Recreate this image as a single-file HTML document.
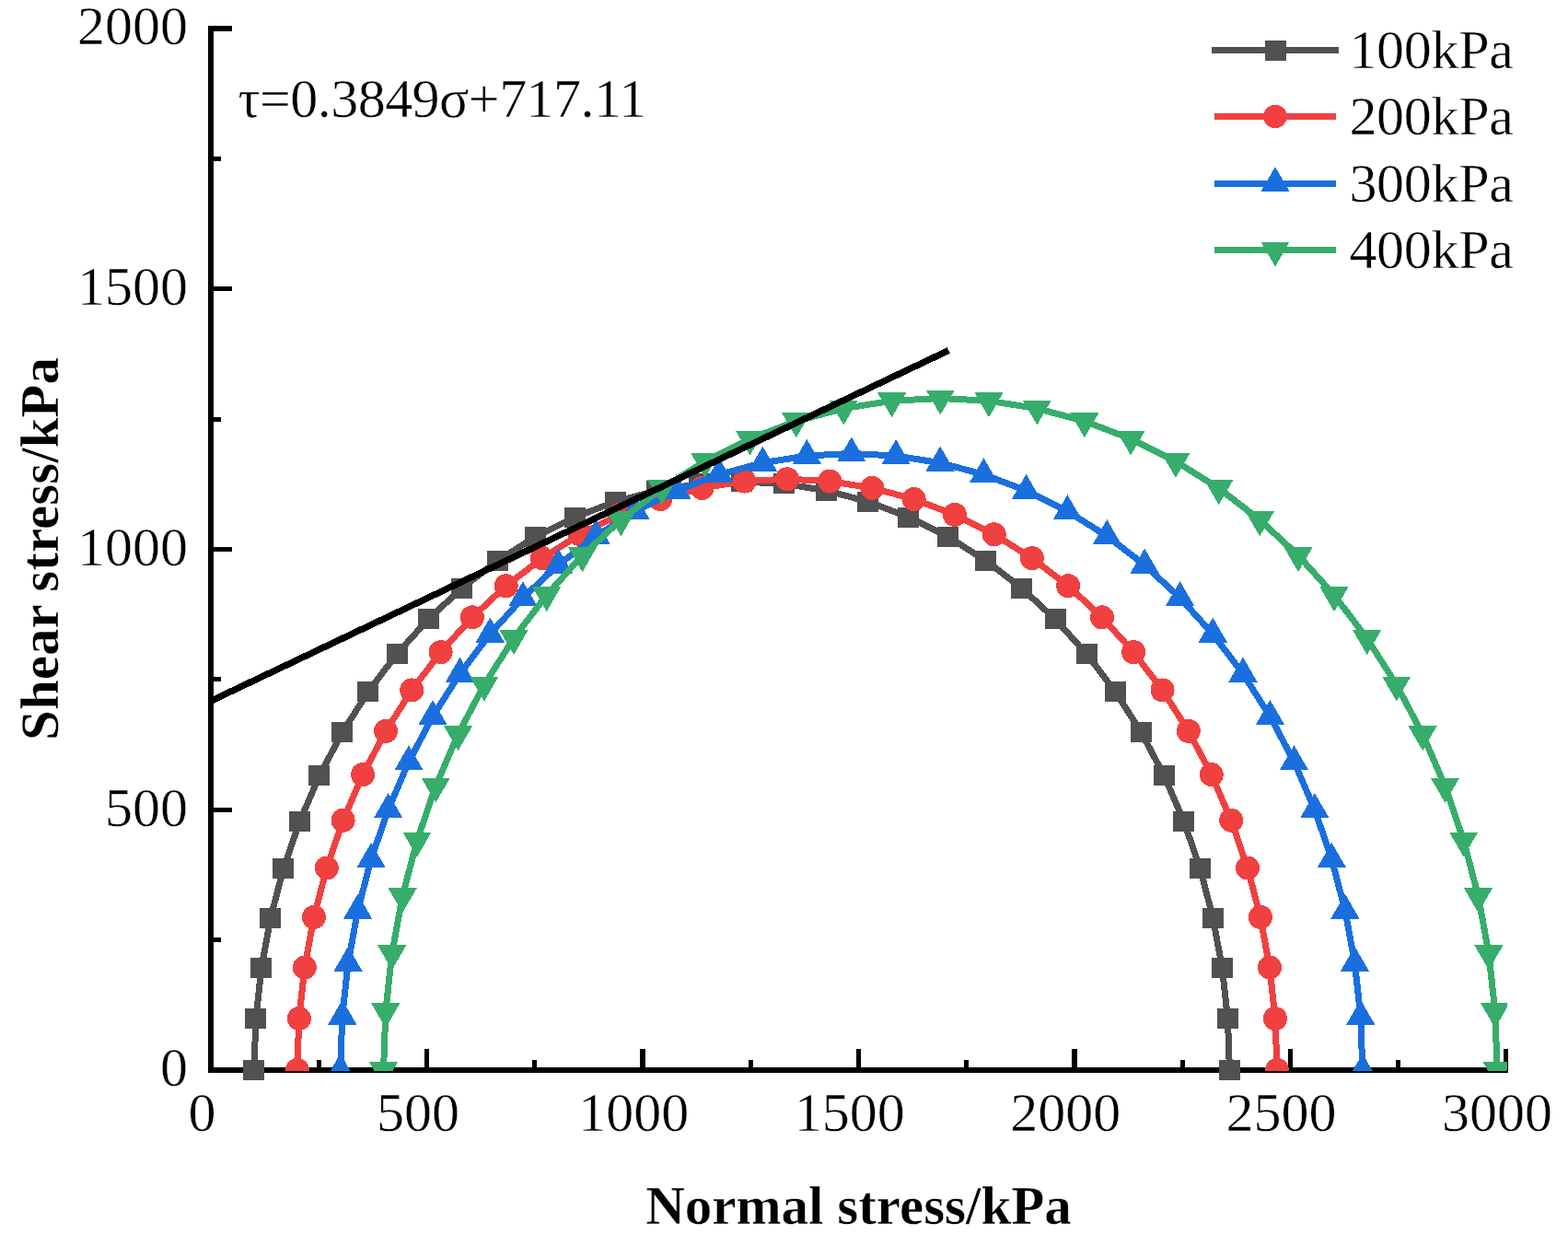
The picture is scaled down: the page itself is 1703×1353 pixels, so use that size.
<!DOCTYPE html>
<html lang="en"><head><meta charset="utf-8"><title>Mohr circles and strength envelope</title>
<style>html,body{margin:0;padding:0;background:#fff;}body{width:1703px;height:1353px;overflow:hidden;}svg{display:block;}text{font-family:'Liberation Serif', 'DejaVu Serif', serif;fill:#000;stroke:#fff;stroke-width:0.45px;}</style>
</head><body>
<svg width="1703" height="1353" viewBox="0 0 1703 1353">
<rect width="1703" height="1353" fill="#fff"/>
<defs><clipPath id="c"><rect x="226" y="0" width="1411" height="1163"/></clipPath></defs>
<g fill="#000" shape-rendering="crispEdges">
<rect x="226" y="28" width="6" height="1137"/>
<rect x="226" y="1159" width="1412" height="6"/>
<rect x="344" y="1151" width="5" height="8"/>
<rect x="461" y="1139" width="5" height="20"/>
<rect x="578" y="1151" width="5" height="8"/>
<rect x="695" y="1139" width="6" height="20"/>
<rect x="813" y="1151" width="5" height="8"/>
<rect x="930" y="1139" width="5" height="20"/>
<rect x="1047" y="1151" width="5" height="8"/>
<rect x="1164" y="1139" width="6" height="20"/>
<rect x="1282" y="1151" width="5" height="8"/>
<rect x="1399" y="1139" width="5" height="20"/>
<rect x="1516" y="1151" width="5" height="8"/>
<rect x="1633" y="1139" width="5" height="20"/>
<rect x="232" y="1018" width="8" height="5"/>
<rect x="232" y="877" width="20" height="5"/>
<rect x="232" y="735" width="8" height="5"/>
<rect x="232" y="594" width="20" height="5"/>
<rect x="232" y="453" width="8" height="5"/>
<rect x="232" y="311" width="20" height="5"/>
<rect x="232" y="170" width="8" height="5"/>
<rect x="232" y="28" width="20" height="6"/>
</g>
<g font-size="60" text-anchor="middle">
<text x="219.5" y="1228.4">0</text>
<text x="453.92" y="1228.4">500</text>
<text x="688.33" y="1228.4">1000</text>
<text x="922.75" y="1228.4">1500</text>
<text x="1157.17" y="1228.4">2000</text>
<text x="1391.58" y="1228.4">2500</text>
<text x="1626" y="1228.4">3000</text>
</g>
<g font-size="60" text-anchor="end">
<text x="204" y="1179.3">0</text>
<text x="204" y="896.55">500</text>
<text x="204" y="613.8">1000</text>
<text x="204" y="331.05">1500</text>
<text x="204" y="48.3">2000</text>
</g>
<g shape-rendering="crispEdges">
<g>
<polyline points="275.88,1162 277.9,1106.31 283.93,1051.04 293.94,996.61 307.83,943.44 325.52,891.94 346.86,842.49 371.69,795.48 399.83,751.25 431.05,710.15 465.13,672.49 501.79,638.55 540.77,608.6 581.77,582.86 624.47,561.52 668.55,544.76 713.67,532.69 759.49,525.42 805.66,522.99 851.84,525.42 897.66,532.69 942.78,544.76 986.86,561.52 1029.56,582.86 1070.56,608.6 1109.54,638.55 1146.2,672.49 1180.28,710.15 1211.5,751.25 1239.64,795.48 1264.47,842.49 1285.81,891.94 1303.5,943.44 1317.39,996.61 1327.4,1051.04 1333.43,1106.31 1335.45,1162" fill="none" stroke="#515151" stroke-width="7" stroke-linejoin="round"/>
<rect x="264.38" y="1151" width="23" height="22" fill="#515151"/>
<rect x="266.4" y="1095.31" width="23" height="22" fill="#515151"/>
<rect x="272.43" y="1040.04" width="23" height="22" fill="#515151"/>
<rect x="282.44" y="985.61" width="23" height="22" fill="#515151"/>
<rect x="296.33" y="932.44" width="23" height="22" fill="#515151"/>
<rect x="314.02" y="880.94" width="23" height="22" fill="#515151"/>
<rect x="335.36" y="831.49" width="23" height="22" fill="#515151"/>
<rect x="360.19" y="784.48" width="23" height="22" fill="#515151"/>
<rect x="388.33" y="740.25" width="23" height="22" fill="#515151"/>
<rect x="419.55" y="699.15" width="23" height="22" fill="#515151"/>
<rect x="453.63" y="661.49" width="23" height="22" fill="#515151"/>
<rect x="490.29" y="627.55" width="23" height="22" fill="#515151"/>
<rect x="529.27" y="597.6" width="23" height="22" fill="#515151"/>
<rect x="570.27" y="571.86" width="23" height="22" fill="#515151"/>
<rect x="612.97" y="550.52" width="23" height="22" fill="#515151"/>
<rect x="657.05" y="533.76" width="23" height="22" fill="#515151"/>
<rect x="702.17" y="521.69" width="23" height="22" fill="#515151"/>
<rect x="747.99" y="514.42" width="23" height="22" fill="#515151"/>
<rect x="794.16" y="511.99" width="23" height="22" fill="#515151"/>
<rect x="840.34" y="514.42" width="23" height="22" fill="#515151"/>
<rect x="886.16" y="521.69" width="23" height="22" fill="#515151"/>
<rect x="931.28" y="533.76" width="23" height="22" fill="#515151"/>
<rect x="975.36" y="550.52" width="23" height="22" fill="#515151"/>
<rect x="1018.06" y="571.86" width="23" height="22" fill="#515151"/>
<rect x="1059.06" y="597.6" width="23" height="22" fill="#515151"/>
<rect x="1098.04" y="627.55" width="23" height="22" fill="#515151"/>
<rect x="1134.7" y="661.49" width="23" height="22" fill="#515151"/>
<rect x="1168.78" y="699.15" width="23" height="22" fill="#515151"/>
<rect x="1200" y="740.25" width="23" height="22" fill="#515151"/>
<rect x="1228.14" y="784.48" width="23" height="22" fill="#515151"/>
<rect x="1252.97" y="831.49" width="23" height="22" fill="#515151"/>
<rect x="1274.31" y="880.94" width="23" height="22" fill="#515151"/>
<rect x="1292" y="932.44" width="23" height="22" fill="#515151"/>
<rect x="1305.89" y="985.61" width="23" height="22" fill="#515151"/>
<rect x="1315.9" y="1040.04" width="23" height="22" fill="#515151"/>
<rect x="1321.93" y="1095.31" width="23" height="22" fill="#515151"/>
<rect x="1323.95" y="1151" width="23" height="22" fill="#515151"/>
</g>
<g clip-path="url(#c)">
<polyline points="322.77,1162 324.79,1106.06 330.85,1050.55 340.9,995.88 354.86,942.48 372.62,890.75 394.06,841.08 419,793.85 447.26,749.43 478.62,708.15 512.85,670.32 549.68,636.23 588.83,606.15 630.01,580.29 672.89,558.87 717.17,542.03 762.49,529.91 808.51,522.6 854.89,520.16 901.27,522.6 947.3,529.91 992.62,542.03 1036.89,558.87 1079.78,580.29 1120.96,606.15 1160.11,636.23 1196.94,670.32 1231.16,708.15 1262.52,749.43 1290.78,793.85 1315.73,841.08 1337.16,890.75 1354.93,942.48 1368.89,995.88 1378.93,1050.55 1384.99,1106.06 1387.02,1162" fill="none" stroke="#F14040" stroke-width="7" stroke-linejoin="round"/>
<circle cx="322.77" cy="1162" r="13" fill="#F14040"/>
<circle cx="324.79" cy="1106.06" r="13" fill="#F14040"/>
<circle cx="330.85" cy="1050.55" r="13" fill="#F14040"/>
<circle cx="340.9" cy="995.88" r="13" fill="#F14040"/>
<circle cx="354.86" cy="942.48" r="13" fill="#F14040"/>
<circle cx="372.62" cy="890.75" r="13" fill="#F14040"/>
<circle cx="394.06" cy="841.08" r="13" fill="#F14040"/>
<circle cx="419" cy="793.85" r="13" fill="#F14040"/>
<circle cx="447.26" cy="749.43" r="13" fill="#F14040"/>
<circle cx="478.62" cy="708.15" r="13" fill="#F14040"/>
<circle cx="512.85" cy="670.32" r="13" fill="#F14040"/>
<circle cx="549.68" cy="636.23" r="13" fill="#F14040"/>
<circle cx="588.83" cy="606.15" r="13" fill="#F14040"/>
<circle cx="630.01" cy="580.29" r="13" fill="#F14040"/>
<circle cx="672.89" cy="558.87" r="13" fill="#F14040"/>
<circle cx="717.17" cy="542.03" r="13" fill="#F14040"/>
<circle cx="762.49" cy="529.91" r="13" fill="#F14040"/>
<circle cx="808.51" cy="522.6" r="13" fill="#F14040"/>
<circle cx="854.89" cy="520.16" r="13" fill="#F14040"/>
<circle cx="901.27" cy="522.6" r="13" fill="#F14040"/>
<circle cx="947.3" cy="529.91" r="13" fill="#F14040"/>
<circle cx="992.62" cy="542.03" r="13" fill="#F14040"/>
<circle cx="1036.89" cy="558.87" r="13" fill="#F14040"/>
<circle cx="1079.78" cy="580.29" r="13" fill="#F14040"/>
<circle cx="1120.96" cy="606.15" r="13" fill="#F14040"/>
<circle cx="1160.11" cy="636.23" r="13" fill="#F14040"/>
<circle cx="1196.94" cy="670.32" r="13" fill="#F14040"/>
<circle cx="1231.16" cy="708.15" r="13" fill="#F14040"/>
<circle cx="1262.52" cy="749.43" r="13" fill="#F14040"/>
<circle cx="1290.78" cy="793.85" r="13" fill="#F14040"/>
<circle cx="1315.73" cy="841.08" r="13" fill="#F14040"/>
<circle cx="1337.16" cy="890.75" r="13" fill="#F14040"/>
<circle cx="1354.93" cy="942.48" r="13" fill="#F14040"/>
<circle cx="1368.89" cy="995.88" r="13" fill="#F14040"/>
<circle cx="1378.93" cy="1050.55" r="13" fill="#F14040"/>
<circle cx="1384.99" cy="1106.06" r="13" fill="#F14040"/>
<circle cx="1387.02" cy="1162" r="13" fill="#F14040"/>
</g>
<g clip-path="url(#c)">
<polyline points="369.65,1162 371.76,1103.64 378.08,1045.73 388.56,988.71 403.13,933 421.66,879.04 444.02,827.22 470.04,777.96 499.52,731.62 532.23,688.56 567.94,649.09 606.36,613.54 647.2,582.15 690.15,555.18 734.89,532.83 781.08,515.26 828.36,502.62 876.37,495 924.75,492.45 973.13,495 1021.14,502.62 1068.42,515.26 1114.6,532.83 1159.34,555.18 1202.3,582.15 1243.14,613.54 1281.56,649.09 1317.26,688.56 1349.98,731.62 1379.46,777.96 1405.48,827.22 1427.84,879.04 1446.37,933 1460.93,988.71 1471.41,1045.73 1477.74,1103.64 1479.85,1162" fill="none" stroke="#1A6FDF" stroke-width="7" stroke-linejoin="round"/>
<polygon points="369.65,1144 354.05,1171 385.25,1171" fill="#1A6FDF"/>
<polygon points="371.76,1085.64 356.16,1112.64 387.36,1112.64" fill="#1A6FDF"/>
<polygon points="378.08,1027.73 362.48,1054.73 393.68,1054.73" fill="#1A6FDF"/>
<polygon points="388.56,970.71 372.96,997.71 404.16,997.71" fill="#1A6FDF"/>
<polygon points="403.13,915 387.53,942 418.73,942" fill="#1A6FDF"/>
<polygon points="421.66,861.04 406.06,888.04 437.26,888.04" fill="#1A6FDF"/>
<polygon points="444.02,809.22 428.42,836.22 459.62,836.22" fill="#1A6FDF"/>
<polygon points="470.04,759.96 454.44,786.96 485.64,786.96" fill="#1A6FDF"/>
<polygon points="499.52,713.62 483.92,740.62 515.12,740.62" fill="#1A6FDF"/>
<polygon points="532.23,670.56 516.63,697.56 547.83,697.56" fill="#1A6FDF"/>
<polygon points="567.94,631.09 552.34,658.09 583.54,658.09" fill="#1A6FDF"/>
<polygon points="606.36,595.54 590.76,622.54 621.96,622.54" fill="#1A6FDF"/>
<polygon points="647.2,564.15 631.6,591.15 662.8,591.15" fill="#1A6FDF"/>
<polygon points="690.15,537.18 674.55,564.18 705.75,564.18" fill="#1A6FDF"/>
<polygon points="734.89,514.83 719.29,541.83 750.49,541.83" fill="#1A6FDF"/>
<polygon points="781.08,497.26 765.48,524.26 796.68,524.26" fill="#1A6FDF"/>
<polygon points="828.36,484.62 812.76,511.62 843.96,511.62" fill="#1A6FDF"/>
<polygon points="876.37,477 860.77,504 891.97,504" fill="#1A6FDF"/>
<polygon points="924.75,474.45 909.15,501.45 940.35,501.45" fill="#1A6FDF"/>
<polygon points="973.13,477 957.53,504 988.73,504" fill="#1A6FDF"/>
<polygon points="1021.14,484.62 1005.54,511.62 1036.74,511.62" fill="#1A6FDF"/>
<polygon points="1068.42,497.26 1052.82,524.26 1084.02,524.26" fill="#1A6FDF"/>
<polygon points="1114.6,514.83 1099,541.83 1130.2,541.83" fill="#1A6FDF"/>
<polygon points="1159.34,537.18 1143.74,564.18 1174.94,564.18" fill="#1A6FDF"/>
<polygon points="1202.3,564.15 1186.7,591.15 1217.9,591.15" fill="#1A6FDF"/>
<polygon points="1243.14,595.54 1227.54,622.54 1258.74,622.54" fill="#1A6FDF"/>
<polygon points="1281.56,631.09 1265.96,658.09 1297.16,658.09" fill="#1A6FDF"/>
<polygon points="1317.26,670.56 1301.66,697.56 1332.86,697.56" fill="#1A6FDF"/>
<polygon points="1349.98,713.62 1334.38,740.62 1365.58,740.62" fill="#1A6FDF"/>
<polygon points="1379.46,759.96 1363.86,786.96 1395.06,786.96" fill="#1A6FDF"/>
<polygon points="1405.48,809.22 1389.88,836.22 1421.08,836.22" fill="#1A6FDF"/>
<polygon points="1427.84,861.04 1412.24,888.04 1443.44,888.04" fill="#1A6FDF"/>
<polygon points="1446.37,915 1430.77,942 1461.97,942" fill="#1A6FDF"/>
<polygon points="1460.93,970.71 1445.33,997.71 1476.53,997.71" fill="#1A6FDF"/>
<polygon points="1471.41,1027.73 1455.81,1054.73 1487.01,1054.73" fill="#1A6FDF"/>
<polygon points="1477.74,1085.64 1462.14,1112.64 1493.34,1112.64" fill="#1A6FDF"/>
<polygon points="1479.85,1144 1464.25,1171 1495.45,1171" fill="#1A6FDF"/>
</g>
<g clip-path="url(#c)">
<polyline points="416.53,1162 418.83,1098.42 425.72,1035.32 437.14,973.19 453.01,912.5 473.2,853.7 497.56,797.25 525.91,743.58 558.03,693.09 593.67,646.17 632.57,603.17 674.43,564.43 718.93,530.24 765.73,500.85 814.48,476.5 864.8,457.36 916.31,443.59 968.62,435.28 1021.33,432.5 1074.04,435.28 1126.35,443.59 1177.86,457.36 1228.18,476.5 1276.93,500.85 1323.73,530.24 1368.22,564.43 1410.08,603.17 1448.98,646.17 1484.63,693.09 1516.75,743.58 1545.1,797.25 1569.46,853.7 1589.65,912.5 1605.52,973.19 1616.94,1035.32 1623.82,1098.42 1626.12,1162" fill="none" stroke="#37AD6B" stroke-width="7" stroke-linejoin="round"/>
<polygon points="416.53,1180 400.93,1153 432.13,1153" fill="#37AD6B"/>
<polygon points="418.83,1116.42 403.23,1089.42 434.43,1089.42" fill="#37AD6B"/>
<polygon points="425.72,1053.32 410.12,1026.32 441.32,1026.32" fill="#37AD6B"/>
<polygon points="437.14,991.19 421.54,964.19 452.74,964.19" fill="#37AD6B"/>
<polygon points="453.01,930.5 437.41,903.5 468.61,903.5" fill="#37AD6B"/>
<polygon points="473.2,871.7 457.6,844.7 488.8,844.7" fill="#37AD6B"/>
<polygon points="497.56,815.25 481.96,788.25 513.16,788.25" fill="#37AD6B"/>
<polygon points="525.91,761.58 510.31,734.58 541.51,734.58" fill="#37AD6B"/>
<polygon points="558.03,711.09 542.43,684.09 573.63,684.09" fill="#37AD6B"/>
<polygon points="593.67,664.17 578.07,637.17 609.27,637.17" fill="#37AD6B"/>
<polygon points="632.57,621.17 616.97,594.17 648.17,594.17" fill="#37AD6B"/>
<polygon points="674.43,582.43 658.83,555.43 690.03,555.43" fill="#37AD6B"/>
<polygon points="718.93,548.24 703.33,521.24 734.53,521.24" fill="#37AD6B"/>
<polygon points="765.73,518.85 750.13,491.85 781.33,491.85" fill="#37AD6B"/>
<polygon points="814.48,494.5 798.88,467.5 830.08,467.5" fill="#37AD6B"/>
<polygon points="864.8,475.36 849.2,448.36 880.4,448.36" fill="#37AD6B"/>
<polygon points="916.31,461.59 900.71,434.59 931.91,434.59" fill="#37AD6B"/>
<polygon points="968.62,453.28 953.02,426.28 984.22,426.28" fill="#37AD6B"/>
<polygon points="1021.33,450.5 1005.73,423.5 1036.93,423.5" fill="#37AD6B"/>
<polygon points="1074.04,453.28 1058.44,426.28 1089.64,426.28" fill="#37AD6B"/>
<polygon points="1126.35,461.59 1110.75,434.59 1141.95,434.59" fill="#37AD6B"/>
<polygon points="1177.86,475.36 1162.26,448.36 1193.46,448.36" fill="#37AD6B"/>
<polygon points="1228.18,494.5 1212.58,467.5 1243.78,467.5" fill="#37AD6B"/>
<polygon points="1276.93,518.85 1261.33,491.85 1292.53,491.85" fill="#37AD6B"/>
<polygon points="1323.73,548.24 1308.13,521.24 1339.33,521.24" fill="#37AD6B"/>
<polygon points="1368.22,582.43 1352.62,555.43 1383.82,555.43" fill="#37AD6B"/>
<polygon points="1410.08,621.17 1394.48,594.17 1425.68,594.17" fill="#37AD6B"/>
<polygon points="1448.98,664.17 1433.38,637.17 1464.58,637.17" fill="#37AD6B"/>
<polygon points="1484.63,711.09 1469.03,684.09 1500.23,684.09" fill="#37AD6B"/>
<polygon points="1516.75,761.58 1501.15,734.58 1532.35,734.58" fill="#37AD6B"/>
<polygon points="1545.1,815.25 1529.5,788.25 1560.7,788.25" fill="#37AD6B"/>
<polygon points="1569.46,871.7 1553.86,844.7 1585.06,844.7" fill="#37AD6B"/>
<polygon points="1589.65,930.5 1574.05,903.5 1605.25,903.5" fill="#37AD6B"/>
<polygon points="1605.52,991.19 1589.92,964.19 1621.12,964.19" fill="#37AD6B"/>
<polygon points="1616.94,1053.32 1601.34,1026.32 1632.54,1026.32" fill="#37AD6B"/>
<polygon points="1623.82,1116.42 1608.22,1089.42 1639.42,1089.42" fill="#37AD6B"/>
<polygon points="1626.12,1180 1610.52,1153 1641.72,1153" fill="#37AD6B"/>
</g>
<line x1="229" y1="761.2" x2="1030.3" y2="380.5" stroke="#000" stroke-width="7.2"/>
</g>
<text x="258.5" y="126.6" font-size="60" letter-spacing="-0.55">τ=0.3849σ+717.11</text>
<g shape-rendering="crispEdges">
<line x1="1316" y1="54.5" x2="1454" y2="54.5" stroke="#515151" stroke-width="7"/>
<rect x="1373.5" y="43.5" width="23" height="22" fill="#515151"/>
<line x1="1319" y1="126.5" x2="1451" y2="126.5" stroke="#F14040" stroke-width="7"/>
<circle cx="1385" cy="126.5" r="12.6" fill="#F14040"/>
<line x1="1319" y1="199" x2="1451" y2="199" stroke="#1A6FDF" stroke-width="7"/>
<polygon points="1385,181 1369.4,208 1400.6,208" fill="#1A6FDF"/>
<line x1="1319" y1="271.5" x2="1451" y2="271.5" stroke="#37AD6B" stroke-width="7"/>
<polygon points="1385,289.5 1369.4,262.5 1400.6,262.5" fill="#37AD6B"/>
</g>
<text x="1643.6" y="73.5" font-size="60" text-anchor="end" letter-spacing="-0.3">100kPa</text>
<text x="1643.6" y="146.2" font-size="60" text-anchor="end" letter-spacing="-0.3">200kPa</text>
<text x="1643.6" y="218.6" font-size="60" text-anchor="end" letter-spacing="-0.3">300kPa</text>
<text x="1643.6" y="290.5" font-size="60" text-anchor="end" letter-spacing="-0.3">400kPa</text>
<text x="932.5" y="1328.7" font-size="59" font-weight="bold" text-anchor="middle">Normal stress/kPa</text>
<text transform="translate(62.7 596) rotate(-90)" font-size="59" font-weight="bold" text-anchor="middle">Shear stress/kPa</text>
</svg>
</body></html>
